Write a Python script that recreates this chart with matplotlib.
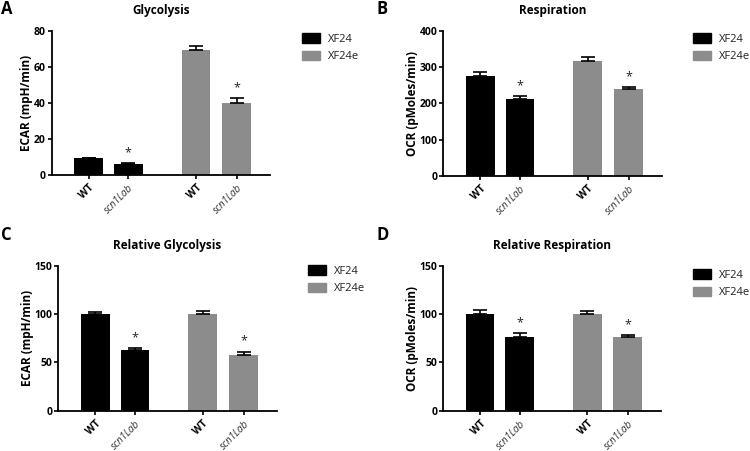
import matplotlib
matplotlib.use("Agg")
import matplotlib.pyplot as plt
from matplotlib.patches import Patch

plt.rcParams['font.family'] = ['Open Sans', 'DejaVu Sans']

categories = ["WT", "scn1Lab", "WT", "scn1Lab"]
series_names = ["XF24", "XF24e"]
colors = ["#000000", "#8c8c8c"]

titles = ["Glycolysis", "Respiration", "Relative Glycolysis", "Relative Respiration"]
letters = ["A", "B", "C", "D"]
ylabels = ["ECAR (mpH/min)", "OCR (pMoles/min)", "ECAR (mpH/min)", "OCR (pMoles/min)"]
ymax = [80, 400, 150, 150]
ystep = [20, 100, 50, 50]

# values: [XF24 WT, XF24 scn1Lab, XF24e WT, XF24e scn1Lab]
glycolysis = [9.3, 6.0, 69.5, 40.0]
glycolysis_err = [0.3, 0.4, 2.2, 2.6]
respiration = [275, 211, 317, 241]
respiration_err = [13, 8, 11, 4]
rel_glycolysis = [100, 62.5, 100, 57.7]
rel_glycolysis_err = [2.8, 2.0, 3.0, 3.5]
rel_respiration = [100, 76.6, 100, 76.3]
rel_respiration_err = [4.5, 3.5, 3.8, 1.7]
significant = [False, True, False, True]

values = [glycolysis, respiration, rel_glycolysis, rel_respiration]
errors = [glycolysis_err, respiration_err, rel_glycolysis_err, rel_respiration_err]

W, H = 750, 451
fig = plt.figure(figsize=(W / 100, H / 100), dpi=100)

# axes boxes in pixels: left, top, right, bottom
boxes = [(51.5, 31, 270, 175), (443, 31, 662, 175.7),
         (58, 266, 277, 410.7), (443, 266, 661, 410.7)]
leg_pos = [(302, 33), (693, 33), (308, 265), (693, 269)]
letter_pos = [(1, 9), (376, 9), (1, 235), (376, 235)]

xpos = [1.29, 2.67, 5.02, 6.43]
xlim = (0, 7.59)

for i in range(4):
    l, t, r, b = boxes[i]
    ax = fig.add_axes([l / W, 1 - b / H, (r - l) / W, (b - t) / H])
    vals, errs = values[i], errors[i]
    bar_colors = [colors[0], colors[0], colors[1], colors[1]]
    ax.bar(xpos, vals, width=1.0, color=bar_colors, zorder=2)
    ax.errorbar(xpos, vals, yerr=[[0] * 4, errs], fmt='none', ecolor='black',
                elinewidth=1.2, capsize=5, capthick=1.2, zorder=3)
    for x, v, e, s in zip(xpos, vals, errs, significant):
        if s:
            ax.annotate("*", (x, v + e), xytext=(0, 3), textcoords='offset points',
                        ha='center', va='bottom', fontsize=9, color='#222222')
    ax.set_xlim(*xlim)
    ax.set_ylim(0, ymax[i])
    ax.set_yticks(range(0, ymax[i] + 1, ystep[i]))
    for lab in ax.get_yticklabels():
        lab.set_fontweight('bold')
        lab.set_fontsize(7.5)
    ax.set_xticks(xpos)
    ax.set_xticklabels(categories, rotation=45, ha='right', rotation_mode='anchor')
    for k, lab in enumerate(ax.get_xticklabels()):
        if k % 2 == 0:
            lab.set_fontweight('bold')
            lab.set_fontsize(7.3)
        else:
            lab.set_fontstyle('italic')
            lab.set_fontsize(7.2)
            lab.set_color('#333333')
    for sp in ['top', 'right']:
        ax.spines[sp].set_visible(False)
    for sp in ['left', 'bottom']:
        ax.spines[sp].set_linewidth(1.3)
    ax.tick_params(axis='y', direction='out', length=3, width=1.2, pad=1)
    ax.tick_params(axis='x', direction='out', length=3, width=1.2, pad=2.5)
    ax.set_ylabel(ylabels[i], fontsize=8.5, fontweight='bold', labelpad=0.5)
    ax.set_title(titles[i], fontsize=8.5, fontweight='bold', pad=12)
    handles = [Patch(facecolor=c, edgecolor=c) for c in colors]
    lx, ly = leg_pos[i]
    ax.legend(handles, series_names, loc='upper left',
              bbox_to_anchor=(lx / W, 1 - ly / H), bbox_transform=fig.transFigure,
              frameon=False, fontsize=8, handlelength=1.6, handleheight=0.95,
              handletextpad=0.75, labelspacing=0.55, borderpad=0, borderaxespad=0,
              labelcolor='#222222')
    px, py = letter_pos[i]
    fig.text(px / W, 1 - py / H, letters[i], fontsize=12, fontweight='bold',
             ha='left', va='center')

fig.savefig("out.png", dpi=100)
